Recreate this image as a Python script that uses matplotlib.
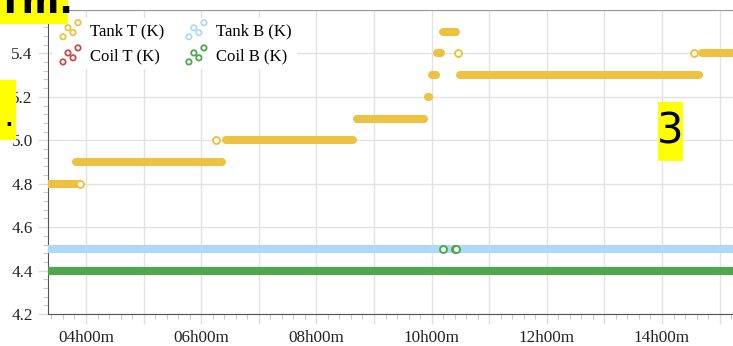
import matplotlib
matplotlib.use('Agg')
import matplotlib.pyplot as plt
from matplotlib.patches import Rectangle
from matplotlib.ticker import MultipleLocator, FuncFormatter

# Tank T steps: (start hour, end hour, temperature K)
tank_t_steps = [
    (3.30, 3.86, 4.8),
    (3.83, 6.36, 4.9),
    (6.43, 8.63, 5.0),
    (8.70, 9.86, 5.1),
    (9.93, 9.96, 5.2),
    (10.01, 10.08, 5.3),
    (10.10, 10.17, 5.4),
    (10.19, 10.43, 5.5),
    (10.50, 14.64, 5.3),
    (14.69, 15.40, 5.4),
]
# isolated Tank T readings
tank_t_pts_h = [3.90, 6.25, 10.46, 14.55]
tank_t_pts_k = [4.8, 5.0, 5.4, 5.4]

tank_b_steps = [(3.30, 15.40, 4.5)]
coil_t_steps = [(3.30, 15.40, 4.4)]
coil_b_steps = [(3.30, 15.40, 4.4)]
coil_b_pts_h = [10.20, 10.40, 10.42]
coil_b_pts_k = [4.5, 4.5, 4.5]

series = ['Tank T (K)', 'Coil T (K)', 'Tank B (K)', 'Coil B (K)']
colors = {'Tank T (K)': '#edc240', 'Tank B (K)': '#afd8f8',
          'Coil T (K)': '#cb4b4b', 'Coil B (K)': '#4da74d'}

W, H = 733, 346
fig = plt.figure(figsize=(W / 100, H / 100), dpi=100)
ax = fig.add_axes([48 / W, 32 / H, (W - 48) / W, 304 / H])

plt.rcParams['font.family'] = 'Liberation Serif'
serif = 'Liberation Serif'


def draw_steps(steps, color, z):
    for h0, h1, k in steps:
        ax.plot([h0, h1], [k, k], color=color, lw=5.8,
                solid_capstyle='round', zorder=z)


def draw_pts(hs, ks, color, z):
    ax.plot(hs, ks, 'o', ms=5, mfc='white', mec=color, mew=1.4, zorder=z)


draw_steps(tank_t_steps, colors['Tank T (K)'], 3)
draw_pts(tank_t_pts_h, tank_t_pts_k, colors['Tank T (K)'], 3)
draw_steps(tank_b_steps, colors['Tank B (K)'], 4)
draw_steps(coil_t_steps, colors['Coil T (K)'], 5)
draw_steps(coil_b_steps, colors['Coil B (K)'], 6)
draw_pts(coil_b_pts_h, coil_b_pts_k, colors['Coil B (K)'], 6)

ax.set_xlim(3.34, 15.233)
ax.set_ylim(4.2, 5.6)

# ticks: hourly grid, labels every 2h, minor every 12 min
ax.xaxis.set_major_locator(MultipleLocator(1))
ax.xaxis.set_minor_locator(MultipleLocator(0.2))
ax.xaxis.set_major_formatter(FuncFormatter(
    lambda v, p: '%02dh00m' % round(v) if round(v) % 2 == 0 else ''))
ax.yaxis.set_major_locator(MultipleLocator(0.2))
ax.yaxis.set_minor_locator(MultipleLocator(0.04))
ax.yaxis.set_major_formatter(FuncFormatter(
    lambda v, p: '%.1f' % v if v < 5.5 else ''))

ax.grid(True, which='major', color='#e2e2e2', lw=1, zorder=0)
ax.set_axisbelow(True)
ax.tick_params(which='major', length=7, width=1, color='#dddddd',
               labelsize=12.3, labelcolor='#222222')
ax.tick_params(axis='x', which='major', pad=4.5)
ax.tick_params(axis='y', which='major', pad=4)
ax.tick_params(which='minor', length=3.5, width=0.8, color='#cccccc')
for lab in ax.get_xticklabels() + ax.get_yticklabels():
    lab.set_fontfamily(serif)

ax.spines['right'].set_visible(False)
ax.spines['top'].set_color('#999999')
ax.spines['left'].set_color('#555555')
ax.spines['bottom'].set_color('#555555')

handles = [ax.scatter([], [], s=15, facecolors='none',
                      edgecolors=colors[name], linewidths=1.3, label=name)
           for name in series]
leg = ax.legend(handles=handles, ncol=2, loc='upper left',
                bbox_to_anchor=(5 / 685, 1 - 8 / 304), borderaxespad=0,
                frameon=True, scatterpoints=4,
                scatteryoffsets=[-0.15, 0.62, 0.2, 1.05],
                handlelength=1.5, handletextpad=0.45, columnspacing=1.15,
                labelspacing=0.55, borderpad=0.3,
                prop={'family': serif, 'size': 12})
leg.get_frame().set_facecolor('white')
leg.get_frame().set_edgecolor('none')
leg.get_frame().set_alpha(1)
leg.set_zorder(10)


# highlighted overlay boxes, in pixel coordinates
def px_box(x0, y0, x1, y1):
    fig.add_artist(Rectangle((x0 / W, 1 - y1 / H), (x1 - x0) / W,
                             (y1 - y0) / H, transform=fig.transFigure,
                             facecolor='#ffff00', edgecolor='none',
                             zorder=20))


px_box(0, 0, 68, 24)
fig.text(-2 / W, 1 - 13 / H, 'Tm.', fontsize=26, fontweight='bold',
         family='DejaVu Sans', va='baseline', ha='left', zorder=21)
px_box(0, 80, 16, 140)
fig.text(3 / W, 1 - 126 / H, '.', fontsize=24, family='DejaVu Sans',
         va='baseline', ha='left', zorder=21)
px_box(658, 102, 683, 161)
fig.text(670.5 / W, 1 - 132 / H, '3', fontsize=30, family='DejaVu Sans',
         va='center', ha='center', zorder=21)

fig.savefig('out.png', dpi=100)
